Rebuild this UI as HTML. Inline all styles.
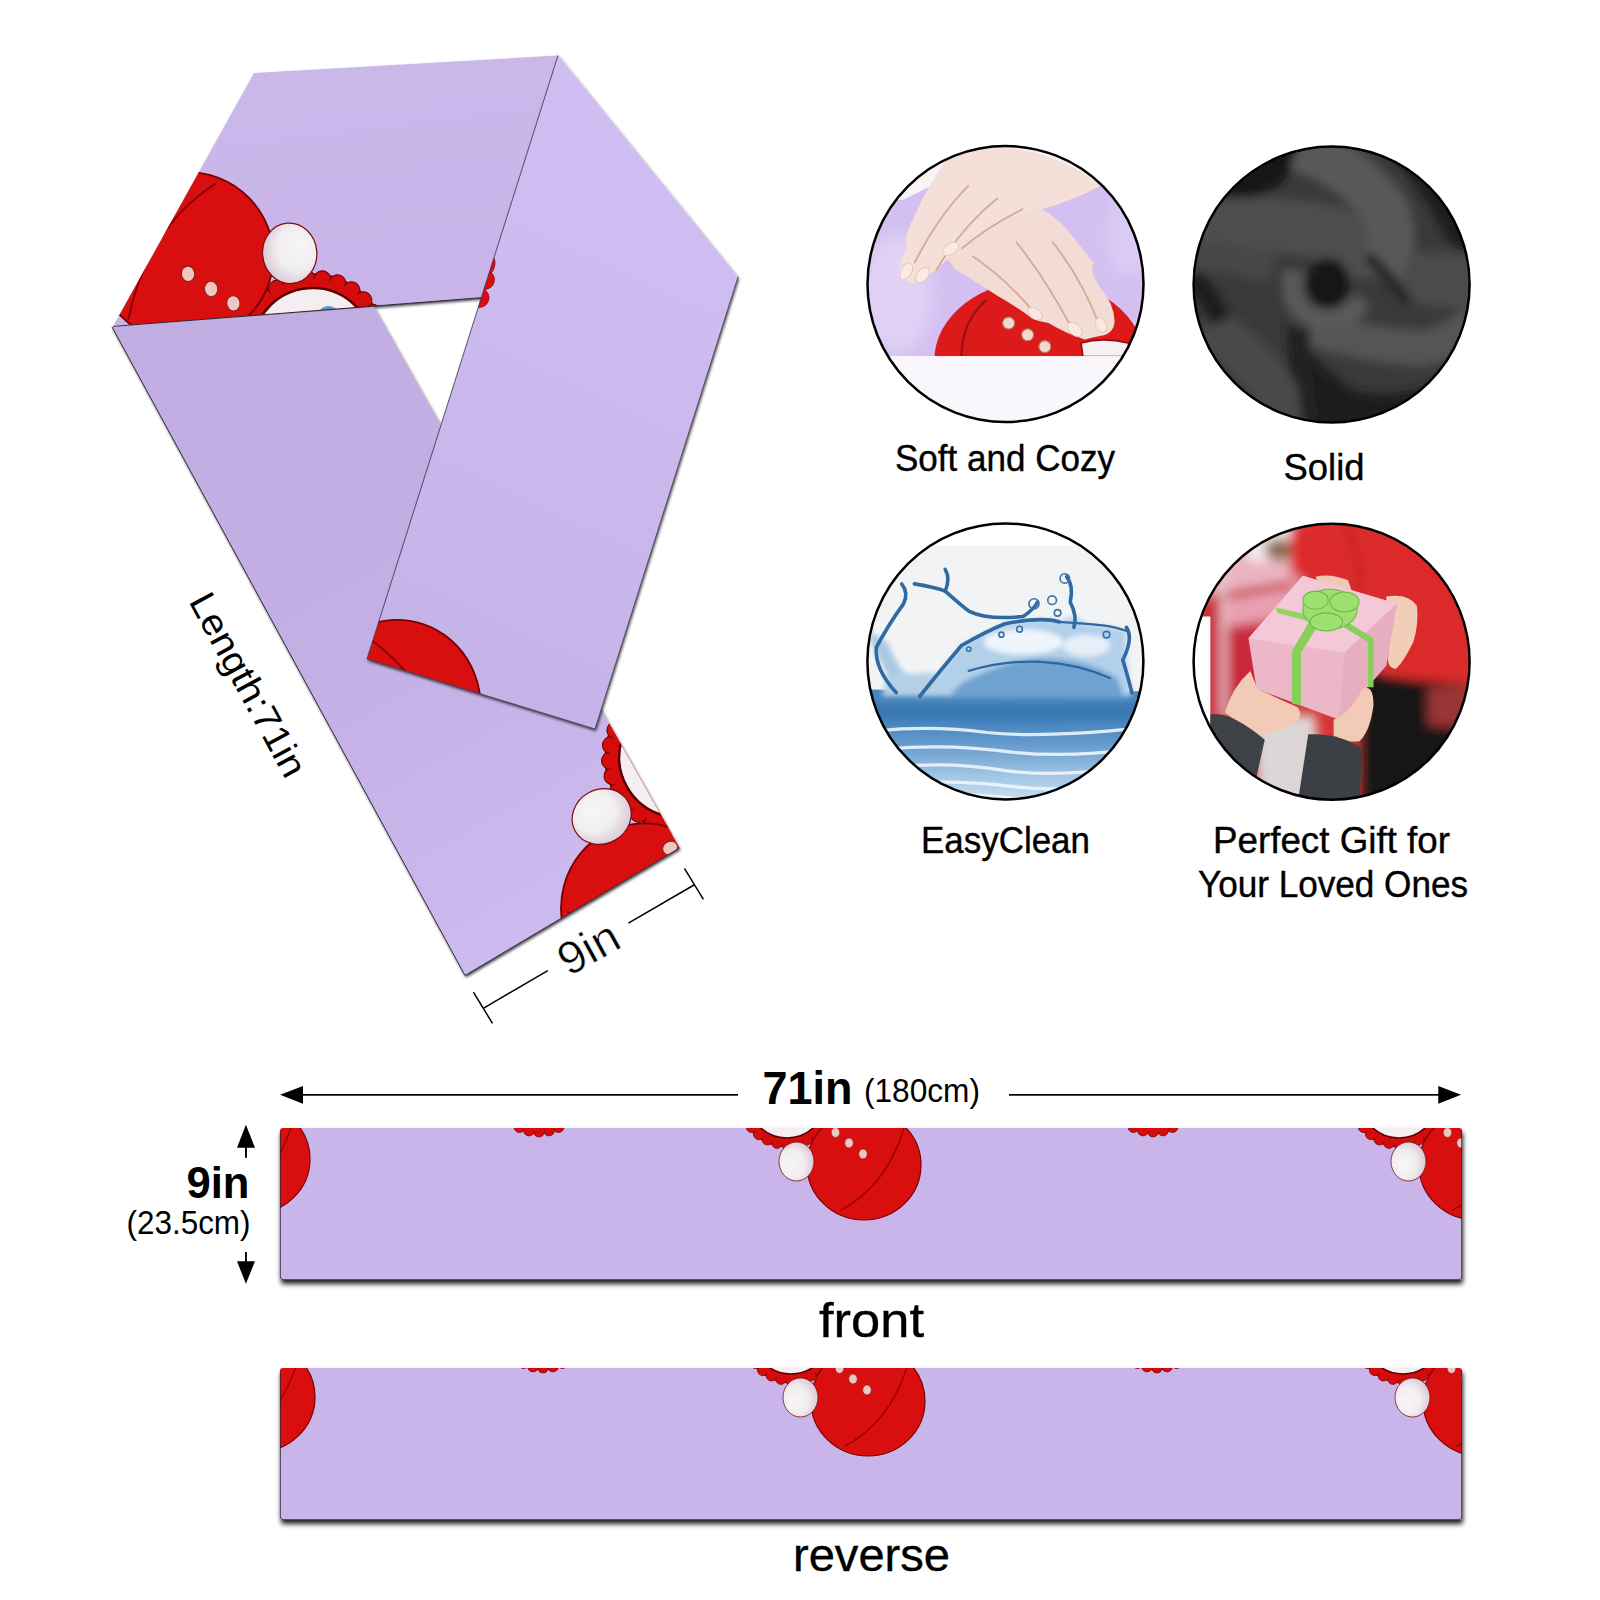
<!DOCTYPE html>
<html>
<head>
<meta charset="utf-8">
<style>
html,body{margin:0;padding:0;background:#fff;width:1600px;height:1600px;overflow:hidden}
svg{position:absolute;left:0;top:0;display:block}
text{font-family:"Liberation Sans",sans-serif;fill:#000}
.md{stroke:#000;stroke-width:0.4px}
</style>
</head>
<body>
<svg width="1600" height="1600" viewBox="0 0 1600 1600">
<defs>
  <radialGradient id="ballg" cx="0.4" cy="0.55" r="0.6" fx="0.3" fy="0.6"><stop offset="0" stop-color="#f7f5f6"/><stop offset="0.6" stop-color="#f1eef0"/><stop offset="1" stop-color="#dcc8d4"/></radialGradient>
  <g id="el">
    <g transform="translate(-77,-66)">
      <circle r="48" fill="#d50c0c" stroke="#7a0000" stroke-width="1"/>
      <g fill="#d50c0c" stroke="#7a0000" stroke-width="0.7"><circle cx="45.0" cy="0.0" r="5.5"/><circle cx="43.9" cy="10.0" r="5.5"/><circle cx="40.5" cy="19.5" r="5.5"/><circle cx="35.2" cy="28.1" r="5.5"/><circle cx="28.1" cy="35.2" r="5.5"/><circle cx="19.5" cy="40.5" r="5.5"/><circle cx="10.0" cy="43.9" r="5.5"/><circle cx="0.0" cy="45.0" r="5.5"/><circle cx="-10.0" cy="43.9" r="5.5"/><circle cx="-19.5" cy="40.5" r="5.5"/><circle cx="-28.1" cy="35.2" r="5.5"/><circle cx="-35.2" cy="28.1" r="5.5"/><circle cx="-40.5" cy="19.5" r="5.5"/><circle cx="-43.9" cy="10.0" r="5.5"/><circle cx="-45.0" cy="0.0" r="5.5"/><circle cx="-43.9" cy="-10.0" r="5.5"/><circle cx="-40.5" cy="-19.5" r="5.5"/><circle cx="-35.2" cy="-28.1" r="5.5"/><circle cx="-28.1" cy="-35.2" r="5.5"/><circle cx="-19.5" cy="-40.5" r="5.5"/><circle cx="-10.0" cy="-43.9" r="5.5"/><circle cx="-0.0" cy="-45.0" r="5.5"/><circle cx="10.0" cy="-43.9" r="5.5"/><circle cx="19.5" cy="-40.5" r="5.5"/><circle cx="28.1" cy="-35.2" r="5.5"/><circle cx="35.2" cy="-28.1" r="5.5"/><circle cx="40.5" cy="-19.5" r="5.5"/><circle cx="43.9" cy="-10.0" r="5.5"/></g>
      <circle r="45" fill="#d50c0c"/>
      <circle r="39" fill="#f5eef1" stroke="#5a0000" stroke-width="1.6"/>
      <circle cx="-12" cy="19" r="7.5" fill="#5d9ccc"/>
    </g>
    <ellipse rx="57" ry="55" fill="#d90e0e" stroke="#7a0000" stroke-width="1.2"/>
    <path d="M40,-37 Q22,22 -24,45.5" stroke="#8a0000" fill="none" stroke-width="1.2"/>
    <ellipse cx="-67.5" cy="-3.5" rx="17.5" ry="19.5" fill="url(#ballg)" stroke="#7a1010" stroke-width="0.8"/>
    <g fill="#efc7c0" stroke="#8a2020" stroke-width="0.7">
      <ellipse cx="-28.5" cy="-32.5" rx="4.3" ry="5"/>
      <ellipse cx="-15" cy="-22" rx="4.3" ry="5"/>
      <ellipse cx="-1" cy="-11" rx="4.3" ry="5"/>
    </g>
  </g>
  <g id="ring">
    <g fill="#d50c0c" stroke="#7a0000" stroke-width="0.7"><circle cx="45.0" cy="0.0" r="5.5"/><circle cx="43.9" cy="10.0" r="5.5"/><circle cx="40.5" cy="19.5" r="5.5"/><circle cx="35.2" cy="28.1" r="5.5"/><circle cx="28.1" cy="35.2" r="5.5"/><circle cx="19.5" cy="40.5" r="5.5"/><circle cx="10.0" cy="43.9" r="5.5"/><circle cx="0.0" cy="45.0" r="5.5"/><circle cx="-10.0" cy="43.9" r="5.5"/><circle cx="-19.5" cy="40.5" r="5.5"/><circle cx="-28.1" cy="35.2" r="5.5"/><circle cx="-35.2" cy="28.1" r="5.5"/><circle cx="-40.5" cy="19.5" r="5.5"/><circle cx="-43.9" cy="10.0" r="5.5"/><circle cx="-45.0" cy="0.0" r="5.5"/><circle cx="-43.9" cy="-10.0" r="5.5"/><circle cx="-40.5" cy="-19.5" r="5.5"/><circle cx="-35.2" cy="-28.1" r="5.5"/><circle cx="-28.1" cy="-35.2" r="5.5"/><circle cx="-19.5" cy="-40.5" r="5.5"/><circle cx="-10.0" cy="-43.9" r="5.5"/><circle cx="-0.0" cy="-45.0" r="5.5"/><circle cx="10.0" cy="-43.9" r="5.5"/><circle cx="19.5" cy="-40.5" r="5.5"/><circle cx="28.1" cy="-35.2" r="5.5"/><circle cx="35.2" cy="-28.1" r="5.5"/><circle cx="40.5" cy="-19.5" r="5.5"/><circle cx="43.9" cy="-10.0" r="5.5"/></g>
    <circle r="45" fill="#d50c0c"/>
  </g>
  <linearGradient id="gL" gradientUnits="userSpaceOnUse" x1="240" y1="320" x2="570" y2="910"><stop offset="0" stop-color="#c1ade1"/><stop offset="0.5" stop-color="#c3afe3"/><stop offset="1" stop-color="#cdbaee"/></linearGradient>
  <linearGradient id="gR" gradientUnits="userSpaceOnUse" x1="680" y1="200" x2="450" y2="690"><stop offset="0" stop-color="#d0bef3"/><stop offset="1" stop-color="#c5b2e6"/></linearGradient>
  <linearGradient id="gT" gradientUnits="userSpaceOnUse" x1="300" y1="70" x2="330" y2="310"><stop offset="0" stop-color="#cbb8eb"/><stop offset="1" stop-color="#c8b4e8"/></linearGradient>
  <clipPath id="cpTop"><polygon points="254,73 558,55.5 490,297 113,326.5"/></clipPath>
  <clipPath id="cpLeft"><polygon points="112,327 374,307 679.5,848 465,975.5"/></clipPath>
  <clipPath id="cpRight"><polygon points="558,55.5 738,277 595,729 367,659"/></clipPath>
  <clipPath id="cpFront"><rect x="280" y="1128" width="1182" height="152" rx="3"/></clipPath>
  <clipPath id="cpRev"><rect x="280" y="1368" width="1182" height="152" rx="3"/></clipPath>
  <clipPath id="c1"><circle cx="1005.5" cy="284" r="138"/></clipPath>
  <clipPath id="c2"><circle cx="1331.6" cy="284.5" r="138"/></clipPath>
  <clipPath id="c3"><circle cx="1005.4" cy="661.4" r="138"/></clipPath>
  <clipPath id="c4"><circle cx="1331.6" cy="661.7" r="138"/></clipPath>
  <filter id="blur6" x="-50%" y="-50%" width="200%" height="200%"><feGaussianBlur stdDeviation="14"/></filter>
  <filter id="blur12" x="-50%" y="-50%" width="200%" height="200%"><feGaussianBlur stdDeviation="30"/></filter>
  <linearGradient id="wg" x1="0" y1="0" x2="0" y2="1"><stop offset="0" stop-color="#4a86bf"/><stop offset="0.25" stop-color="#4080bc"/><stop offset="0.5" stop-color="#6a9ecf"/><stop offset="0.75" stop-color="#a2c6e4"/><stop offset="1" stop-color="#d0e4f2"/></linearGradient>
  <filter id="blur25" x="-50%" y="-50%" width="200%" height="200%"><feGaussianBlur stdDeviation="26"/></filter>
  <filter id="blur20" x="-50%" y="-50%" width="200%" height="200%"><feGaussianBlur stdDeviation="50"/></filter>
  <filter id="sh" x="-10%" y="-10%" width="130%" height="130%">
    <feDropShadow dx="1" dy="2" stdDeviation="1.8" flood-color="#000" flood-opacity="0.75"/>
  </filter>
  <filter id="shs" x="-5%" y="-20%" width="110%" height="150%">
    <feDropShadow dx="1" dy="4" stdDeviation="2.6" flood-color="#000" flood-opacity="0.88"/>
  </filter>
</defs>

<!-- ============ SCARF ============ -->
<g id="scarf">
  <!-- top band -->
  <g filter="url(#sh)">
    <polygon points="254,73 558,55.5 490,297 113,326.5" fill="url(#gT)"/>
  </g>
  <g clip-path="url(#cpTop)">
    <use href="#el" transform="translate(185,257) rotate(175) scale(1.55)"/>
  </g>
  <line x1="113" y1="326.5" x2="490" y2="297" stroke="#2e2838" stroke-width="1.1"/>
  <!-- left band -->
  <g filter="url(#sh)">
    <polygon points="112,327 374,307 679.5,848 465,975.5" fill="url(#gL)"/>
  </g>
  <g clip-path="url(#cpLeft)">
    <use href="#el" transform="translate(647,911) rotate(61.4) scale(1.55)"/>
  </g>
  <polyline points="112,327 465,975.5 679.5,848" fill="none" stroke="#2e2838" stroke-width="1"/>
  <!-- right band -->
  <g filter="url(#sh)">
    <polygon points="558,55.5 738,277 595,729 367,659" fill="url(#gR)"/>
  </g>
  <g clip-path="url(#cpRight)">
    <use href="#el" transform="translate(395,708) rotate(-72) scale(1.55)"/>
    <g fill="#d80e0e" stroke="#8a0000" stroke-width="0.6">
      <ellipse cx="489" cy="266" rx="5.5" ry="10" transform="rotate(18 489 266)"/>
      <ellipse cx="485.5" cy="280" rx="9" ry="9.5" transform="rotate(18 485.5 280)"/>
      <ellipse cx="480" cy="298" rx="9" ry="9.5" transform="rotate(18 480 298)"/>
    </g>
  </g>
  <polyline points="558,55.5 367,659 595,729 738,277" fill="none" stroke="#3a3248" stroke-width="0.8"/>
</g>

<!-- Length text -->
<text transform="translate(188.2,601.3) rotate(61.4)" font-size="37" textLength="204" lengthAdjust="spacingAndGlyphs">Length:71in</text>

<!-- 9in dimension -->
<g stroke="#000" stroke-width="1.5" fill="none">
  <line x1="473.4" y1="992.2" x2="492.5" y2="1023.4"/>
  <line x1="684.4" y1="868.4" x2="703.4" y2="899.4"/>
  <line x1="483.75" y1="1008.1" x2="547.8" y2="970.6"/>
  <line x1="628.4" y1="923.1" x2="694" y2="885"/>
</g>
<text transform="translate(568.5,977) rotate(-29)" font-size="46" textLength="63" lengthAdjust="spacingAndGlyphs" stroke="#fff" stroke-width="0.6">9in</text>

<!-- ============ CIRCLES ============ -->
<g id="circles">
  <!-- circle 1: hands -->
  <g clip-path="url(#c1)">
   <g transform="translate(860,140) scale(0.18125)">
    <rect x="0" y="0" width="1600" height="1600" fill="#f8f4f6"/>
    <path d="M0,330 L240,330 L500,200 L1330,250 L1600,240 L1600,1195 L0,1195 Z" fill="#d3bff2"/>
    <g filter="url(#blur20)" opacity="0.85">
      <ellipse cx="200" cy="850" rx="200" ry="330" fill="#e2d6f6"/>
      <ellipse cx="1480" cy="520" rx="120" ry="240" fill="#dccff4"/>
    </g>
    <ellipse cx="990" cy="1215" rx="580" ry="445" fill="#dc1a1a"/>
    <path d="M700,880 Q560,1000 560,1195" stroke="#9a1010" stroke-width="12" fill="none"/>
    <path d="M1160,1060 Q1300,1030 1500,1040 L1500,1195 L1180,1195 Z" fill="#e01818"/>
    <path d="M1220,1120 Q1340,1085 1480,1120 L1490,1195 L1230,1195 Z" fill="#f7f0f3" stroke="#8a1010" stroke-width="9"/>
    <rect x="0" y="1192" width="1600" height="410" fill="#f9f7fb"/>
    <g fill="#f4d8cc" stroke="#b87868" stroke-width="6">
      <circle cx="820" cy="1010" r="33"/><circle cx="925" cy="1075" r="33"/><circle cx="1020" cy="1140" r="33"/>
    </g>
    <!-- lower hand -->
    <path d="M480,650 Q560,540 700,460 Q850,390 1000,380 Q1100,430 1180,540 L1290,680 Q1260,720 1330,820 Q1400,900 1405,1000 Q1400,1070 1330,1080 Q1280,1090 1240,1100 Q1140,1070 1040,1010 Q980,1000 950,985 Q850,910 760,860 Q620,770 520,710 Z" fill="#f2dcd3"/>
    <g fill="none" stroke="#d8a898" stroke-width="10">
      <path d="M620,640 Q800,760 960,950"/>
      <path d="M860,560 Q1020,760 1170,1040"/>
      <path d="M1060,560 Q1220,760 1320,1020"/>
    </g>
    <g fill="#f9e8e3" stroke="#e8c4b8" stroke-width="5">
      <ellipse cx="965" cy="958" rx="45" ry="28" transform="rotate(35 965 958)"/>
      <ellipse cx="1185" cy="1045" rx="48" ry="30" transform="rotate(45 1185 1045)"/>
      <ellipse cx="1330" cy="1020" rx="42" ry="30" transform="rotate(65 1330 1020)"/>
    </g>
    <!-- upper hand -->
    <path d="M480,100 Q600,45 800,40 Q1100,70 1330,250 Q1250,300 1050,370 Q900,400 780,440 Q650,530 480,660 Q380,760 300,790 Q215,780 215,700 Q230,640 260,600 Q235,540 300,420 Q340,330 380,260 Z" fill="#f4e0d8"/>
    <g fill="none" stroke="#d8a898" stroke-width="10">
      <path d="M760,320 Q560,480 420,720"/>
      <path d="M600,250 Q430,420 300,680"/>
      <path d="M900,380 Q700,480 560,600"/>
    </g>
    <g fill="#faeae5" stroke="#e8c4b8" stroke-width="5">
      <ellipse cx="255" cy="725" rx="50" ry="30" transform="rotate(-62 255 725)"/>
      <ellipse cx="345" cy="745" rx="48" ry="30" transform="rotate(-55 345 745)"/>
      <ellipse cx="500" cy="600" rx="50" ry="30" transform="rotate(-35 500 600)"/>
    </g>
   </g>
  </g>
  <circle cx="1005.5" cy="284" r="138" fill="none" stroke="#000" stroke-width="2.5"/>

  <!-- circle 2: dark fabric swirl -->
  <g clip-path="url(#c2)">
   <g transform="translate(1185,140) scale(0.18125)">
    <rect x="0" y="0" width="1600" height="1600" fill="#3a3a3a"/>
    <g filter="url(#blur25)">
      <path d="M0,0 L700,0 L640,120 L520,250 L350,330 L180,345 L0,360 Z" fill="#141414"/>
      <path d="M1100,60 Q1300,250 1420,500 Q1480,620 1600,640 L1600,0 Z" fill="#1a1a1a"/>
      <path d="M0,480 Q500,440 840,520 Q1010,620 1020,760" stroke="#4e4e4e" stroke-width="300" fill="none"/>
      <path d="M620,40 Q950,150 1110,400 Q1180,600 1060,760" stroke="#585858" stroke-width="260" fill="none"/>
      <path d="M0,640 Q300,640 480,720" stroke="#474747" stroke-width="160" fill="none"/>
      <path d="M1250,620 L1600,620 L1600,940 Q1350,920 1150,880 Z" fill="#4c4c4c"/>
      <path d="M560,980 Q700,1240 950,1390 Q1200,1440 1480,1300 L1600,1600 L600,1600 Z" fill="#1c1c1c"/>
      <path d="M700,1040 Q1000,1130 1300,1150 Q1480,1120 1600,1000" stroke="#545454" stroke-width="200" fill="none"/>
      <path d="M120,1020 Q380,1200 520,1420 Q570,1520 590,1600" stroke="#4a4a4a" stroke-width="240" fill="none"/>
      <path d="M40,760 Q140,860 200,1000" stroke="#1e1e1e" stroke-width="110" fill="none"/>
      <path d="M640,1040 Q650,1300 700,1600" stroke="#222" stroke-width="90" fill="none"/>
      <path d="M600,720 Q560,900 700,980 Q880,1030 980,880" stroke="#5a5a5a" stroke-width="110" fill="none"/>
      <ellipse cx="790" cy="790" rx="120" ry="140" fill="#161616"/>
      <path d="M1000,640 Q1100,720 1230,900" stroke="#262626" stroke-width="70" fill="none"/>
    </g>
   </g>
  </g>
  <circle cx="1331.6" cy="284.5" r="138" fill="none" stroke="#000" stroke-width="2.5"/>

  <!-- circle 3: water -->
  <g clip-path="url(#c3)">
   <g transform="translate(860,515) scale(0.18125)">
    <rect x="0" y="0" width="1600" height="1600" fill="#ffffff"/>
    <rect x="0" y="170" width="1600" height="900" fill="#f2f3f4"/>
    <path d="M0,960 Q800,1000 1600,970 L1600,1600 L0,1600 Z" fill="url(#wg)"/>
    <g filter="url(#blur6)">
      <path d="M330,1000 Q450,850 560,720 Q700,640 800,600 Q1000,560 1100,590 Q1180,540 1250,600 Q1350,610 1470,640 Q1460,800 1500,1000 Z" fill="#b2d0ea"/>
      <path d="M560,930 Q800,800 1000,790 Q1250,790 1420,900 L1460,1010 L480,1010 Z" fill="#6ea2d0"/>
      <path d="M40,640 Q120,860 230,990 L420,1000 Q230,920 150,700 Z" fill="#a8c8e2"/>
      <path d="M150,880 L420,870 L400,1000 L120,1000 Z" fill="#b4d0e6"/>
      <ellipse cx="900" cy="700" rx="220" ry="70" fill="#eef5fb"/>
      <ellipse cx="1250" cy="720" rx="130" ry="60" fill="#e6f0f8"/>
      <path d="M0,1040 Q800,1070 1600,1040 L1600,1110 Q800,1140 0,1110 Z" fill="#3a78b2"/>
    </g>
    <g fill="none" stroke="#2f6aa2" stroke-width="20" stroke-linecap="round">
      <path d="M230,380 Q270,430 240,490 Q160,600 90,730 Q80,850 200,980"/>
      <path d="M300,380 Q420,400 470,420 Q560,500 600,530 Q700,580 900,560 Q960,520 980,480"/>
      <path d="M470,300 Q500,350 470,420"/>
      <path d="M1140,340 Q1180,390 1160,480 Q1200,560 1180,620"/>
      <path d="M1470,620 Q1510,680 1450,800 Q1480,900 1500,980"/>
      <path d="M330,1000 Q450,850 560,720 Q700,640 800,600 Q1000,560 1100,590"/>
      <path d="M1100,590 Q1250,600 1350,610 Q1420,620 1470,640" stroke-width="12"/>
      <path d="M600,860 Q800,800 1000,810 Q1200,820 1380,900" stroke="#2f68a0" stroke-width="12"/>
    </g>
    <g fill="none" stroke="#3a74a8" stroke-width="9">
      <circle cx="960" cy="490" r="28"/><circle cx="1060" cy="470" r="24"/><circle cx="1090" cy="540" r="18"/>
      <circle cx="780" cy="660" r="14"/><circle cx="880" cy="630" r="16"/><circle cx="1360" cy="660" r="18"/>
      <circle cx="600" cy="740" r="12"/><circle cx="1130" cy="350" r="26"/>
    </g>
    <g fill="none" stroke="#eef6fc" stroke-width="18" opacity="0.9">
      <path d="M100,1190 Q400,1160 700,1200 Q1000,1230 1500,1180"/>
      <path d="M150,1290 Q500,1260 850,1310 Q1150,1340 1520,1290"/>
      <path d="M200,1390 Q500,1360 800,1410 Q1100,1450 1480,1390"/>
      <path d="M260,1480 Q560,1460 860,1500 Q1100,1530 1400,1480"/>
      <path d="M300,1550 Q600,1530 900,1570 Q1100,1590 1350,1560"/>
    </g>
   </g>
  </g>
  <circle cx="1005.4" cy="661.4" r="138" fill="none" stroke="#000" stroke-width="2.5"/>

  <!-- circle 4: gift -->
  <g clip-path="url(#c4)">
   <g transform="translate(1185,515) scale(0.18125)">
    <rect x="0" y="0" width="1600" height="1600" fill="#d43434"/>
    <g filter="url(#blur12)">
      <rect x="0" y="0" width="640" height="460" fill="#eab4c0"/>
      <path d="M280,60 L620,40 L620,240 L360,260 Z" fill="#f6eaee"/>
      <ellipse cx="520" cy="190" rx="80" ry="60" fill="#8a6a50"/>
      <path d="M130,440 L600,360 L600,1120 L130,1120 Z" fill="#c82c3a"/>
      <path d="M200,470 L600,400 L600,560 L200,620 Z" fill="#e8a0b0"/>
      <rect x="195" y="250" width="35" height="870" fill="#e6c6cf"/>
      <path d="M580,40 L1600,40 L1600,960 L1120,880 L1100,460 L580,330 Z" fill="#dc2c2c"/>
      <path d="M880,40 Q1000,300 950,440" stroke="#b41e1e" stroke-width="18" fill="none"/>
      <path d="M980,880 L1600,940 L1600,1600 L980,1600 Z" fill="#181414"/>
      <path d="M1340,950 L1600,940 L1600,1180 L1340,1160 Z" fill="#9a3636"/>
      <path d="M380,1100 L720,1100 L760,1600 L400,1600 Z" fill="#dcd6d6"/>
    </g>
    <rect x="0" y="560" width="140" height="1040" fill="#ffffff"/>
    <!-- giver hand -->
    <path d="M1110,450 Q1230,430 1280,500 Q1290,600 1260,700 Q1200,820 1160,850 Q1120,840 1120,800 Q1130,700 1120,600 Z" fill="#f2cdb8"/>
    <path d="M720,340 Q800,320 900,360 L920,420 L740,380 Z" fill="#f0c8b4"/>
    <!-- box -->
    <path d="M350,680 L650,335 L1170,490 L1110,830 L850,1130 L395,960 Z" fill="#ecb8c9"/>
    <path d="M350,680 L650,335 L1170,490 L880,760 Z" fill="#f4c8d6"/>
    <path d="M880,760 L1170,490 L1110,830 L850,1130 Z" fill="#e6aebf"/>
    <path d="M500,510 L700,555 L950,470 L960,500 L700,590 L510,540 Z" fill="#8ed65e"/>
    <path d="M690,580 L740,600 L640,760 L640,1050 L590,1040 L590,750 Z" fill="#86d05a"/>
    <path d="M880,580 L1040,680 L1040,950 L1010,950 L1010,700 L860,610 Z" fill="#86d05a"/>
    <g fill="#9ee070" stroke="#6cb848" stroke-width="6">
      <ellipse cx="800" cy="520" rx="150" ry="110"/>
      <ellipse cx="720" cy="470" rx="70" ry="50"/>
      <ellipse cx="880" cy="480" rx="80" ry="55"/>
      <ellipse cx="780" cy="590" rx="90" ry="50"/>
    </g>
    <!-- receiver hands -->
    <path d="M220,1090 Q260,950 360,860 L400,960 L620,1060 Q660,1110 600,1150 Q500,1200 400,1220 Z" fill="#f2cbb6"/>
    <path d="M820,1130 Q900,1100 980,960 Q1040,930 1040,1050 Q1020,1200 960,1250 L820,1250 Z" fill="#f2cbb6"/>
    <path d="M140,1100 Q250,1080 440,1240 L360,1600 L140,1600 Z" fill="#3e4246"/>
    <path d="M680,1210 Q850,1200 980,1290 L960,1600 L620,1600 Z" fill="#3c4044"/>
   </g>
  </g>
  <circle cx="1331.6" cy="661.7" r="138" fill="none" stroke="#000" stroke-width="2.5"/>
</g>

<text class="md" x="895" y="471" font-size="37" textLength="220" lengthAdjust="spacingAndGlyphs">Soft and Cozy</text>
<text class="md" x="1283.5" y="479.7" font-size="36.7" textLength="81" lengthAdjust="spacingAndGlyphs">Solid</text>
<text class="md" x="921" y="852.5" font-size="37" textLength="169" lengthAdjust="spacingAndGlyphs">EasyClean</text>
<text class="md" x="1213" y="852.5" font-size="37" textLength="237" lengthAdjust="spacingAndGlyphs">Perfect Gift for</text>
<text class="md" x="1198" y="897.2" font-size="37" textLength="270" lengthAdjust="spacingAndGlyphs">Your Loved Ones</text>

<!-- ============ DIMENSIONS ============ -->
<g fill="#000">
  <rect x="300" y="1094" width="438" height="1.7"/>
  <rect x="1009" y="1094" width="430" height="1.7"/>
  <polygon points="280,1094.85 303,1086 303,1103.7"/>
  <polygon points="1461,1094.85 1438.25,1086 1438.25,1103.7"/>
  <polygon points="245.9,1124.7 237,1147.7 255,1147.7"/>
  <rect x="245" y="1146" width="1.9" height="11.8"/>
  <rect x="245" y="1252" width="1.9" height="10"/>
  <polygon points="245.9,1283.8 237,1261.25 255,1261.25"/>
</g>
<text x="762.5" y="1104" font-size="46.5" font-weight="700" textLength="90" lengthAdjust="spacingAndGlyphs">71in</text>
<text x="864" y="1102" font-size="33" textLength="116" lengthAdjust="spacingAndGlyphs">(180cm)</text>
<text x="186.5" y="1197.9" font-size="45" font-weight="700" textLength="63" lengthAdjust="spacingAndGlyphs">9in</text>
<text x="126.5" y="1234" font-size="32.7" textLength="124" lengthAdjust="spacingAndGlyphs">(23.5cm)</text>

<!-- ============ STRIPS ============ -->
<g filter="url(#shs)"><rect x="280" y="1128" width="1182" height="152" rx="3" fill="#c9b5e9"/></g>
<g clip-path="url(#cpFront)">
  <use href="#el" transform="translate(253,1159)"/>
  <use href="#el" transform="translate(864,1165)"/>
  <use href="#el" transform="translate(1476,1165)"/>
  <use href="#ring" transform="translate(539,1086.5)"/>
  <use href="#ring" transform="translate(1153,1086.5)"/>
</g>
<path d="M280.4,1131 V1277 Q280.4,1279.6 283,1279.6 H1459 Q1461.6,1279.6 1461.6,1277 V1131" fill="none" stroke="#2a2438" stroke-width="0.8"/>
<g filter="url(#shs)"><rect x="280" y="1368" width="1182" height="152" rx="3" fill="#c9b5e9"/></g>
<g clip-path="url(#cpRev)">
  <use href="#el" transform="translate(258,1397)"/>
  <use href="#el" transform="translate(868,1401)"/>
  <use href="#el" transform="translate(1480,1401)"/>
  <use href="#ring" transform="translate(543,1322.5)"/>
  <use href="#ring" transform="translate(1157,1322.5)"/>
</g>
<path d="M280.4,1371 V1517 Q280.4,1519.6 283,1519.6 H1459 Q1461.6,1519.6 1461.6,1517 V1371" fill="none" stroke="#2a2438" stroke-width="0.8"/>
<text class="md" x="819" y="1337" font-size="49" textLength="105" lengthAdjust="spacingAndGlyphs">front</text>
<text class="md" x="793" y="1571" font-size="47" textLength="157" lengthAdjust="spacingAndGlyphs">reverse</text>
</svg>
</body>
</html>
